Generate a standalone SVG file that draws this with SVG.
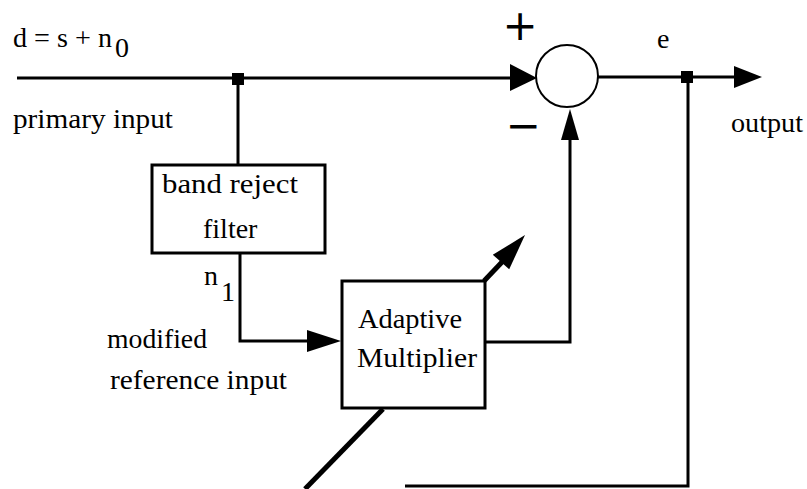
<svg xmlns="http://www.w3.org/2000/svg" width="807" height="489" viewBox="0 0 807 489">
<style>
.t{font-family:"Liberation Serif","Times New Roman",serif;font-size:28px;fill:#000}
.s{font-family:"DejaVu Sans",sans-serif;font-size:42px;fill:#000}
.ln{fill:none;stroke:#000;stroke-width:3}
.th{fill:none;stroke:#000;stroke-width:5}
.box{fill:#fff;stroke:#000;stroke-width:3}
.ah{fill:#000}
</style>
<rect width="807" height="489" fill="#fff"/>
<g id="connectors">
<path class="ln" d="M17,78 H512"/>
<polygon class="ah" points="510,64 537,78 510,91"/>
<rect class="ah" x="232" y="73" width="12" height="12"/>
<path class="ln" d="M238,78 V165"/>
<path class="ln" d="M240,253 V341 H310"/>
<polygon class="ah" points="307,330 341,341 307,352"/>
<path class="ln" d="M485,342 H570 V138"/>
<polygon class="ah" points="561,140 570,109 579,140"/>
<path class="ln" d="M598,77 H736"/>
<rect class="ah" x="681" y="71" width="12" height="12"/>
<polygon class="ah" points="734,66 762,77 734,88"/>
<path class="ln" d="M688,77 V486 H405"/>
<path class="th" d="M305,489 L383,409"/>
<path class="th" d="M484,281 L503,261"/>
<polygon class="ah" points="525,235 492.8,254.7 509.2,269.3"/>
</g>
<g id="sum">
<circle cx="567" cy="76" r="31" fill="#fff" stroke="#000" stroke-width="2"/>
<text class="s" x="520" y="40" text-anchor="middle">+</text>
<text class="s" x="523" y="140" text-anchor="middle">−</text>
</g>
<g id="band-reject-filter">
<rect class="box" x="152" y="165" width="173" height="88"/>
<text class="t" x="162" y="193" textLength="136" lengthAdjust="spacingAndGlyphs">band  reject</text>
<text class="t" x="203" y="238">filter</text>
</g>
<g id="adaptive-multiplier">
<rect class="box" x="342" y="281" width="143" height="127"/>
<text class="t" x="358" y="328" textLength="104" lengthAdjust="spacingAndGlyphs">Adaptive</text>
<text class="t" x="357" y="367" textLength="120" lengthAdjust="spacingAndGlyphs">Multiplier</text>
</g>
<g id="labels">
<text class="t" x="13" y="47"><tspan textLength="99" lengthAdjust="spacingAndGlyphs">d = s + n</tspan><tspan x="115" y="57">0</tspan></text>
<text class="t" x="13" y="128" textLength="160" lengthAdjust="spacingAndGlyphs">primary input</text>
<text class="t" x="657" y="48">e</text>
<text class="t" x="731" y="132" textLength="72" lengthAdjust="spacingAndGlyphs">output</text>
<text class="t" x="204" y="285">n<tspan x="221" y="301">1</tspan></text>
<text class="t" x="107" y="348" textLength="100" lengthAdjust="spacingAndGlyphs">modified</text>
<text class="t" x="110" y="389" textLength="177" lengthAdjust="spacingAndGlyphs">reference input</text>
</g>
</svg>
